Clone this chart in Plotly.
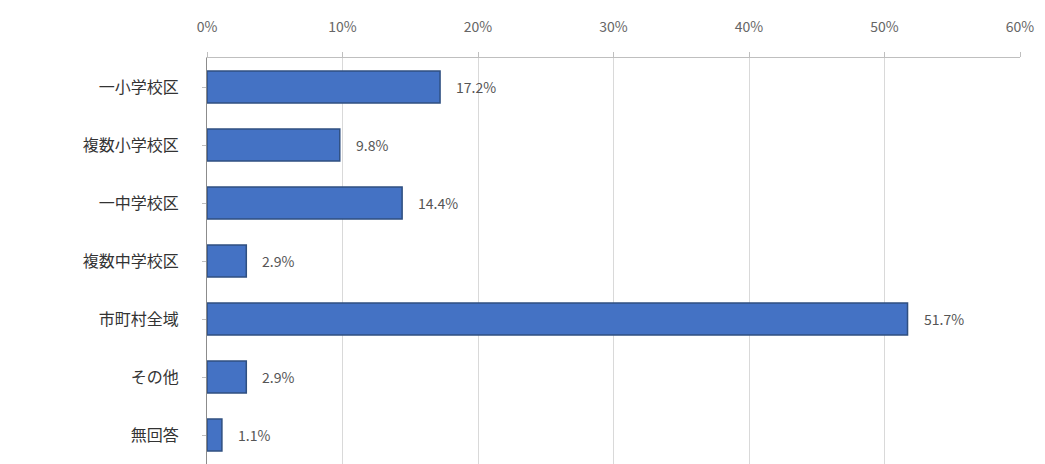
import plotly.graph_objects as go

categories = ["一小学校区", "複数小学校区", "一中学校区", "複数中学校区", "市町村全域", "その他", "無回答"]
values = [17.2, 9.8, 14.4, 2.9, 51.7, 2.9, 1.1]
tick_vals = [0, 10, 20, 30, 40, 50, 60]
tick_text = ["0%", "10%", "20%", "30%", "40%", "50%", "60%"]

font_family = "Noto Sans CJK JP, Noto Sans, sans-serif"

fig = go.Figure(go.Bar(
    y=categories,
    x=values,
    orientation="h",
    width=0.55,
    marker=dict(color="#4472C4", line=dict(color="#2F4F80", width=1.5)),
))

for c, v in zip(categories, values):
    fig.add_annotation(
        x=v, y=c, text=f"{v:.1f}%", showarrow=False,
        xanchor="left", xshift=14,
        font=dict(size=14, color="#555555", family=font_family),
    )

fig.update_layout(
    width=1045, height=464,
    margin=dict(l=207, r=25, t=58, b=0),
    paper_bgcolor="white", plot_bgcolor="white",
    showlegend=False,
    font=dict(family=font_family),
    xaxis=dict(
        side="top", range=[0, 60], tickvals=tick_vals, ticktext=tick_text,
        showgrid=True, gridcolor="#D9D9D9", gridwidth=1,
        tickfont=dict(size=14, color="#666666"),
        ticks="outside", ticklen=5, tickcolor="#BFBFBF",
        ticklabelstandoff=14,
        showline=True, linecolor="#BFBFBF", linewidth=1, zeroline=False,
    ),
    yaxis=dict(
        categoryorder="array", categoryarray=categories, autorange="reversed",
        tickfont=dict(size=16, color="#333333"),
        showline=True, linecolor="#8C8C8C", linewidth=1,
        ticks="outside", ticklen=4, tickcolor="#BFBFBF",
        ticklabelstandoff=20,
    ),
)

fig.write_html("out.html")
